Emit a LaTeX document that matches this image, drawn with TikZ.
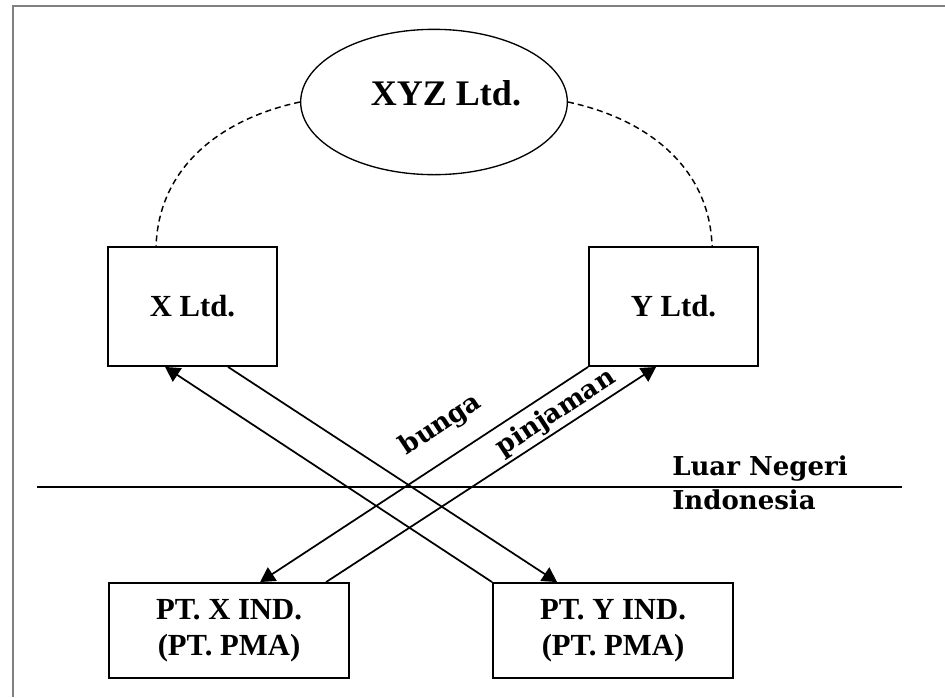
\documentclass[tikz,border=0pt]{standalone}
\usepackage{fontspec}
\setmainfont{Liberation Serif}
\newfontfamily\labelfont{DejaVu Serif}
\usetikzlibrary{arrows.meta,positioning,calc,shapes.geometric}
\tikzset{
  box/.style={draw, line width=1.4pt, align=center, minimum width=126.75pt, minimum height=89.25pt, inner sep=2pt, font=\fontsize{23}{27}\selectfont\bfseries},
  ptbox/.style={box, minimum width=180pt, minimum height=71.25pt},
  firm/.style={draw, ellipse, line width=1pt, minimum width=200pt, minimum height=109pt, inner sep=0pt},
  firmname/.style={inner sep=0pt, font=\fontsize{27}{31}\selectfont\bfseries},
  arrow/.style={-{Triangle[length=11pt,width=12pt]}, line width=1.3pt},
  dashedlink/.style={line width=1.1pt, dash pattern=on 4.5pt off 3pt},
  flowlabel/.style={font=\labelfont\fontsize{19.5}{23}\selectfont\bfseries, inner sep=0pt}
}
\begin{document}
\begin{tikzpicture}[x=0.75pt,y=-0.75pt]
  \useasboundingbox (0,0) rectangle (945,697);
  \draw[black!50, line width=1.5pt] (13,697) -- (13,6) -- (945,6);
  % perusahaan
  \node[firm] (xyz) at (434,102) {};
  \node[firmname] (xyzname) at ($(xyz)+(12,-9)$) {XYZ Ltd.};
  \node[box] (xltd) at (192.5,306.5) {X Ltd.};
  \node[box] (yltd) at (673.5,306.5) {Y Ltd.};
  \node[ptbox] (ptx) at (229,630.5) {PT. X IND.\\(PT. PMA)};
  \node[ptbox] (pty) at (613,630.5) {PT. Y IND.\\(PT. PMA)};
  % batas negara
  \coordinate (bl) at (37,487);
  \coordinate (br) at (902,487);
  \draw[line width=1.3pt] (bl) -- (br);
  \node[flowlabel, anchor=base west] (luar) at (672,475) {Luar Negeri};
  \node[flowlabel, anchor=base west] (indo) at (672,509) {Indonesia};
  % hubungan
  \draw[dashedlink] (xyz.west) to[out=192,in=88] ($(xltd.north west)+(49,0)$);
  \draw[dashedlink] (xyz.east) to[out=-12,in=92] ($(yltd.north west)+(124,0)$);
  \draw[arrow] (pty.north west) -- ($(xltd.south west)+(58,0)$);
  \draw[arrow] ($(xltd.south west)+(121,0)$) -- ($(pty.north west)+(65,0)$);
  \draw[arrow] ($(ptx.north west)+(218,0)$) -- ($(yltd.south west)+(68,0)$);
  \draw[arrow] (yltd.south west) -- ($(ptx.north west)+(152,0)$);
  \node[flowlabel, rotate=33.5] (bunga) at (441,425) {bunga};
  \node[flowlabel, rotate=33.3] (pinjaman) at (556,413) {pinjaman};
\end{tikzpicture}
\end{document}
